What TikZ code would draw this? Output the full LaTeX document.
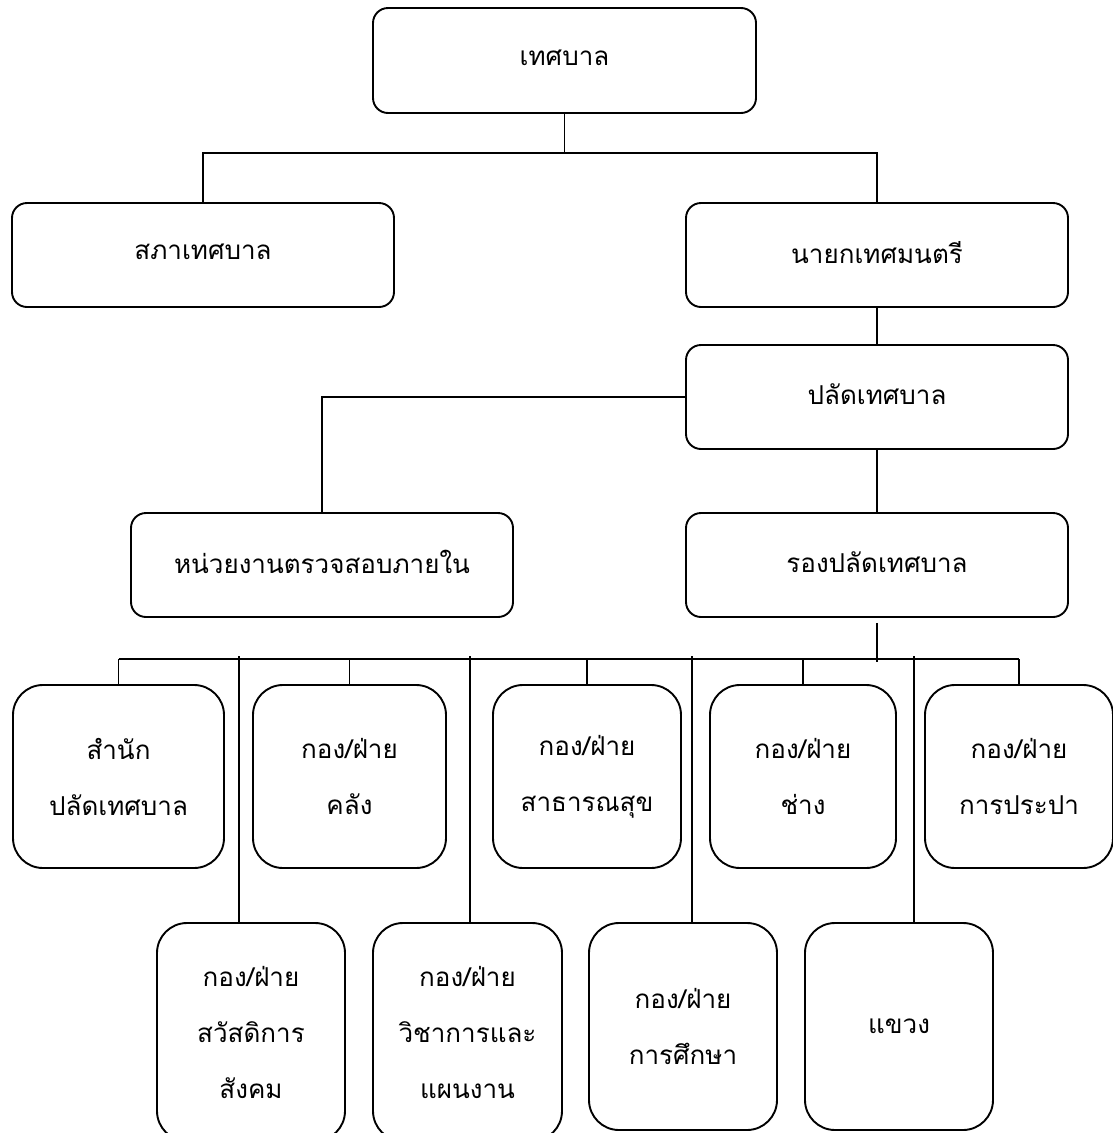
\documentclass[tikz,border=0pt]{standalone}
\usepackage{fontspec}
\newfontfamily\thaifont[Script=Thai]{Loma}
\usepackage{tikz}
\usetikzlibrary{calc}
\tikzset{
  orgshape/.style={draw, line width=1.9pt, rounded corners=15pt, inner sep=0pt, align=center,
    font=\thaifont\fontsize{26}{56}\selectfont},
  subshape/.style={orgshape, rounded corners=30pt},
  link/.style={line width=1.7pt}
}
\newcommand{\orgbox}[6]{\node[orgshape, minimum width=#4pt-#2pt, minimum height=#5pt-#3pt] (#1) at ({(#2+#4)/2},{(#3+#5)/2}) {\raisebox{6pt}{#6}};}
\newcommand{\subbox}[6]{\node[subshape, minimum width=#4pt-#2pt, minimum height=#5pt-#3pt] (#1) at ({(#2+#4)/2},{(#3+#5)/2}) {#6};}

\begin{document}
\begin{tikzpicture}[x=1pt, y=-1pt]
        \useasboundingbox (0,0) rectangle (1113,1133);
        % level1
        \orgbox{mun}{373}{8}{756}{113}{เทศบาล}
        % level2
        \orgbox{sapha}{12}{203}{394}{307}{สภาเทศบาล}
        \orgbox{nayok}{686}{203}{1068}{307}{นายกเทศมนตรี}
        % level3
        \orgbox{palad}{686}{345}{1068}{449}{ปลัดเทศบาล}
        \orgbox{audit}{131}{513}{513}{617}{หน่วยงานตรวจสอบภายใน}
        \orgbox{rong}{686}{513}{1068}{617}{รองปลัดเทศบาล}
        % row1
        \subbox{office}{13}{685}{224}{868}{สำนัก\\ปลัดเทศบาล}
        \subbox{klang}{253}{685}{446}{868}{กอง/ฝ่าย\\คลัง}
        \subbox{health}{493}{685}{681}{868}{กอง/ฝ่าย\\สาธารณสุข}
        \subbox{chang}{710}{685}{896}{868}{กอง/ฝ่าย\\ช่าง}
        \subbox{prapa}{925}{685}{1113}{868}{กอง/ฝ่าย\\การประปา}
        % row2
        \subbox{welfare}{157}{923}{345}{1141}{กอง/ฝ่าย\\สวัสดิการ\\สังคม}
        \subbox{plan}{373}{923}{562}{1141}{กอง/ฝ่าย\\วิชาการและ\\แผนงาน}
        \subbox{edu}{589}{923}{777}{1130}{กอง/ฝ่าย\\การศึกษา}
        \subbox{khwaeng}{805}{923}{993}{1130}{แขวง}

        % lines for level2
        \coordinate (busA) at (0,153);
        \draw[link] (mun.south) -- (mun.south |- busA);
        \draw[link] (sapha.north) -- (sapha.north |- busA) -- (nayok.north |- busA) -- (nayok.north);
        % lines for level3
        \draw[link] (nayok.south) -- (palad.north);
        \draw[link] (palad.west) -| (audit.north);
        \draw[link] (palad.south) -- (rong.north);
        % lines for row1
        \coordinate (busB) at (0,659);
        \draw[link] ([yshift=-5pt]rong.south) -- ([yshift=-3pt]rong.south |- busB);
        \draw[link] (office.north |- busB) -- (prapa.north |- busB);
        \foreach \n in {office,klang,health,chang,prapa}
            \draw[link] (\n.north |- busB) -- (\n.north);
        % lines for row2
        \coordinate (v1) at (239,656);
        \coordinate (v2) at (470,656);
        \coordinate (v3) at (692,656);
        \coordinate (v4) at (914,656);
        \draw[link] (v1) -- (v1 |- welfare.north);
        \draw[link] (v2) -- (v2 |- plan.north);
        \draw[link] (v3) -- (v3 |- edu.north);
        \draw[link] (v4) -- (v4 |- khwaeng.north);
\end{tikzpicture}
\end{document}
